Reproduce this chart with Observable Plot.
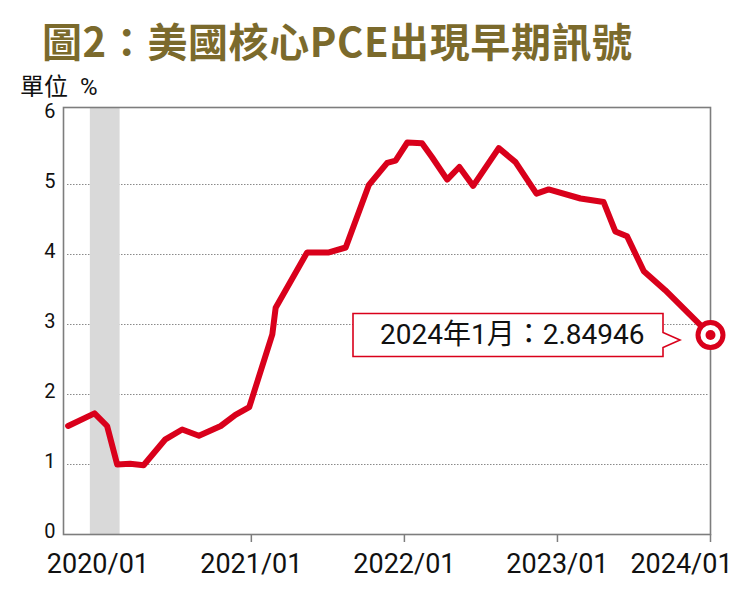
<!DOCTYPE html>
<html>
<head>
<meta charset="utf-8">
<script src="https://cdn.jsdelivr.net/npm/d3@7"></script>
<script src="https://cdn.jsdelivr.net/npm/@observablehq/plot@0.6"></script>
<style>
  html, body { margin: 0; padding: 0; background: #fff; }
  body { width: 749px; height: 598px; overflow: hidden; }
  .title {
    box-sizing: border-box;
    height: 75px; padding: 5px 0 0 42px; line-height: 70px;
    font-family: "Noto Sans CJK TC", sans-serif; font-weight: 700;
    font-size: 40px; letter-spacing: 0.6px; color: #7b6a2c; white-space: nowrap;
  }
  .unit {
    height: 25px; line-height: 25px; padding-left: 20px; word-spacing: 6px;
    font-family: Roboto, "Noto Sans CJK TC", sans-serif; font-size: 24px; color: #111;
  }
  svg { display: block; }
</style>
</head>
<body>
<div class="title">圖2：美國核心PCE出現早期訊號</div>
<div class="unit">單位 %</div>
<script>
// Core PCE (YoY, %)
const dates = ["2019-10-22","2019-12-24","2020-01-23","2020-02-16","2020-03-18","2020-04-19",
  "2020-06-10","2020-07-20","2020-08-29","2020-10-20","2020-11-24","2020-12-27",
  "2021-02-20","2021-02-28","2021-05-14","2021-07-05","2021-08-14","2021-10-08",
  "2021-11-21","2021-12-11","2022-01-08","2022-02-12","2022-03-08","2022-04-13",
  "2022-05-12","2022-06-14","2022-08-14","2022-09-23","2022-11-12","2022-12-11",
  "2023-02-25","2023-04-21","2023-05-19","2023-06-16","2023-07-26","2023-09-15",
  "2024-01-01"];
const values = [1.55,1.73,1.55,1.00,1.01,0.99,
  1.36,1.50,1.41,1.55,1.71,1.82,
  2.86,3.24,4.03,4.03,4.10,4.99,
  5.31,5.34,5.60,5.59,5.39,5.07,
  5.25,4.98,5.52,5.32,4.87,4.93,
  4.80,4.75,4.33,4.26,3.76,3.49,
  2.84946];
// shaded period (grey band)
const bandStart = ["2019-12-14"];
const bandEnd = ["2020-02-23"];
// axis ticks
const xDomain = ["2019-10-11", "2024-01-01"];
const xLabelTicks = ["2020-01-01","2021-01-01","2022-01-01","2023-01-01"];
const xLastTick = ["2024-01-01"];
const xTickMarks = ["2021-01-01","2022-01-01","2023-01-01","2024-01-01"];
const yTicks = [0,1,2,3,4,5,6];
const yGrid = [1,2,3,4,5];

const parse = d3.utcParse("%Y-%m-%d");
const data = dates.map((d, i) => ({date: parse(d), value: values[i]}));
const band = bandStart.map((s, i) => ({start: parse(s), end: parse(bandEnd[i])}));
const last = [data[data.length - 1]];
const fmt = d3.utcFormat("%Y/%m");
const annoFmt = d3.utcFormat("%Y年%-m月");

const RED = "#d9001b";

// callout box (pointing at the latest value), drawn relative to the point via the scales
function calloutBox(index, scales) {
  const px = scales.x(last[0].date), py = scales.y(last[0].value);
  const left = px - 357, right = px - 47, top = py - 21, bottom = py + 22, ac = py + 5.5;
  const p = document.createElementNS("http://www.w3.org/2000/svg", "path");
  p.setAttribute("d", "M" + left + "," + top + "H" + right + "V" + (ac - 7.5) + "L" + (right + 17) + "," + ac +
    "L" + right + "," + (ac + 7.5) + "V" + bottom + "H" + left + "Z");
  p.setAttribute("fill", "#fff");
  p.setAttribute("stroke", RED);
  p.setAttribute("stroke-width", "1.6");
  return p;
}

const chart = Plot.plot({
  width: 749,
  height: 498,
  marginTop: 7,
  marginBottom: 64,
  marginLeft: 63,
  marginRight: 39,
  style: {fontFamily: "Roboto, 'Noto Sans CJK TC', sans-serif", color: "#111", background: "#fff"},
  x: {type: "utc", domain: xDomain.map(parse), label: null},
  y: {domain: [0, 6.1], label: null},
  marks: [
    Plot.ruleY(yGrid, {stroke: "#8a8a8a", strokeWidth: 1, strokeDasharray: "1.5,1.5", insetLeft: 4, insetRight: 2}),
    Plot.rect(band, {x1: "start", x2: "end", fill: "#d9d9d9"}),
    Plot.frame({stroke: "#7d7d7d", strokeWidth: 1.6}),
    Plot.axisY(yTicks, {tickSize: 0, tickPadding: 8, fontSize: 20, dy: -3, fill: "#111", tickFormat: d => String(d), label: null}),
    Plot.axisX(xTickMarks.map(parse), {tickSize: 8, text: null, stroke: "#7d7d7d", strokeWidth: 1.5, label: null}),
    Plot.axisX(xLabelTicks.map(parse), {tickSize: 0, tickPadding: 19, tickFormat: fmt, fontSize: 27, fill: "#111", label: null}),
    Plot.axisX(xLastTick.map(parse), {tickSize: 0, tickPadding: 19, tickFormat: fmt, fontSize: 27, fill: "#111", dx: -29, label: null}),
    Plot.line(data, {x: "date", y: "value", stroke: RED, strokeWidth: 6, strokeLinejoin: "round", strokeLinecap: "round"}),
    Plot.dot(last, {x: "date", y: "value", r: 12.5, stroke: RED, strokeWidth: 5, fill: "#fff"}),
    Plot.dot(last, {x: "date", y: "value", r: 5, fill: RED}),
    calloutBox,
    Plot.text(last, {x: "date", y: "value", text: d => `${annoFmt(d.date)}：${d.value}`,
      textAnchor: "end", dx: -66, fontSize: 28, fontWeight: 400, fill: "#111"})
  ]
});
document.body.appendChild(chart);
</script>
</body>
</html>
